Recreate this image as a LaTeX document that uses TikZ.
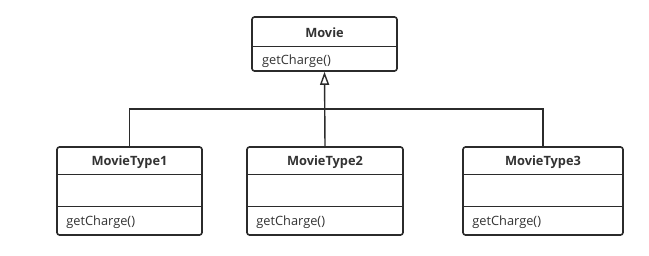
\documentclass[tikz,border=0pt]{standalone}
\usepackage{fontspec}
\setmainfont{Open Sans}
\usetikzlibrary{arrows.meta,calc}
\definecolor{cLine}{HTML}{2B2B2B}
\definecolor{cText}{HTML}{333333}
\tikzset{
  cls/.style={draw=cLine, line width=1.6pt, rounded corners=2.5pt, fill=white, inner sep=0pt},
  title/.style={font=\fontsize{12.8}{15}\selectfont\bfseries, text=cText, inner sep=0pt},
  meth/.style={font=\fontsize{12.8}{15}\selectfont, text=cText, inner sep=0pt, anchor=west},
  sep/.style={draw=cLine, line width=1.4pt},
  link/.style={draw=cLine, line width=1.4pt},
  inherit/.style={link, -{Triangle[open, length=13pt, width=9pt, line width=1.4pt]}},
}
\begin{document}
\begin{tikzpicture}[x=1pt, y=-1pt]
  \useasboundingbox (0,0) rectangle (649,255);
  % superclass
  \node[cls, minimum width=145pt, minimum height=54pt] (movie) at (324.5,44) {};
  \draw[sep] ($(movie.north west)+(0,30)$) -- ($(movie.north east)+(0,30)$);
  \node[title] (movieT) at (324.5,33) {Movie};
  \node[meth] (movieM) at (262,61) {getCharge()};
  % subclasses
  \node[cls, minimum width=145pt, minimum height=88pt] (t1) at (129.5,191) {};
  \node[cls, minimum width=156pt, minimum height=88pt] (t2) at (325,191) {};
  \node[cls, minimum width=160pt, minimum height=88pt] (t3) at (543,191) {};
  \foreach \n/\t in {t1/MovieType1, t2/MovieType2, t3/MovieType3} {
    \draw[sep] ($(\n.north west)+(0,28)$) -- ($(\n.north east)+(0,28)$);
    \draw[sep] ($(\n.north west)+(0,60)$) -- ($(\n.north east)+(0,60)$);
    \node[title] (\n T) at ($(\n.north)+(0,16)$) {\t};
    \node[meth] (\n M) at ($(\n.north west)+(10,76)$) {getCharge()};
  }
  % generalisation
  \coordinate (bus) at (325,109);
  \draw[link] (t1.north) |- (bus) -| (t3.north);
  \draw[inherit] (t2.north) -- (movie.south);
\end{tikzpicture}
\end{document}
